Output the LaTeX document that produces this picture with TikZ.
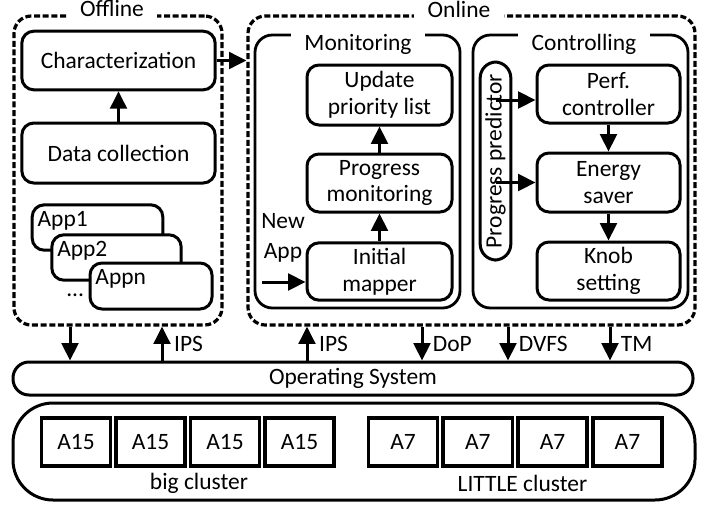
\documentclass[tikz,border=0pt]{standalone}
\usepackage{fontspec}
\setmainfont{Carlito}
\usetikzlibrary{arrows.meta, positioning}

\begin{document}
\begin{tikzpicture}[>={Triangle[length=13pt,width=12.5pt]}, x=0.75pt, y=-0.75pt,
    font=\fontsize{17.6}{20}\selectfont,
    blk/.style={draw, line width=2.25pt, rounded corners=9pt, fill=white, align=center, inner sep=1pt},
    grp/.style={draw, line width=2.4pt, dash pattern=on 4.5pt off 2pt, rounded corners=13pt},
    subgrp/.style={draw, line width=2.1pt, rounded corners=13pt},
    ttl/.style={fill=white, anchor=base, inner xsep=10pt, inner ysep=3pt},
    core/.style={draw, line width=2.7pt, minimum width=52pt, minimum height=36pt},
    apptxt/.style={anchor=north west, inner sep=3pt, xshift=2pt, yshift=-3pt},
    link/.style={->, line width=2.25pt}]
    \useasboundingbox (0,0) rectangle (715,508);

    % 1. Offline / Online groups
    \node[grp, minimum width=156pt, minimum height=231.75pt] (offline) at (118,170.5) {};
    \node[grp, minimum width=335.25pt, minimum height=231.75pt] (online) at (471.5,170.5) {};
    \node[subgrp, minimum width=153.75pt, minimum height=204.75pt] (monitor) at (357.5,171.5) {};
    \node[subgrp, minimum width=161.25pt, minimum height=204.75pt] (control) at (580.5,171.5) {};
    \node[ttl] (offt) at (112,16) {Offline};
    \node[ttl] (ont) at (459,17) {Online};
    \node[ttl] (mont) at (358,50) {Monitoring};
    \node[ttl] (cont) at (584,50) {Controlling};

    % 2. Offline part
    \node[blk, minimum width=145pt, minimum height=44pt] (char) at (118.5,60.5) {Characterization};
    \node[blk, minimum width=145pt, minimum height=45pt] (data) at (118.5,153) {Data collection};
    \node[blk, minimum width=98pt, minimum height=34pt] (app1) at (97.5,227.5) {};
    \node[apptxt] (app1t) at (app1.north west) {App1};
    \node[blk, minimum width=97pt, minimum height=34pt] (app2) at (116.5,257.5) {};
    \node[apptxt] (app2t) at (app2.north west) {App2};
    \node[blk, minimum width=91.5pt, minimum height=34.5pt] (appn) at (151,286) {};
    \node[apptxt] (appnt) at (appn.north west) {Appn};
    \node[anchor=base west, inner sep=0pt] (dots) at (66,296) {...};
    \draw[link] (data) -- (char);
    \draw[link] (char.east) -- (char.east -| online.west);

    % 3. Monitoring
    \node[blk, minimum width=108.75pt, minimum height=45pt] (upl) at (379.5,95) {Update\\priority list};
    \node[blk, minimum width=108.75pt, minimum height=43.5pt] (pm) at (379.5,183) {Progress\\monitoring};
    \node[blk, minimum width=108.75pt, minimum height=43pt] (im) at (379.5,271.5) {Initial\\mapper};
    \node[align=center, inner sep=0pt] (newapp) at (283,238) {New\\[2.5pt]App};
    \coordinate (na) at (262,282);
    \draw[link] (im) -- (pm);
    \draw[link] (pm) -- (upl);
    \draw[link] (na) -- (na -| im.west);

    % 4. Controlling
    \node[blk, rotate=90, rounded corners=12pt, minimum width=148.5pt, minimum height=23pt] (pred) at (495.5,161) {Progress predictor};
    \node[blk, minimum width=107.25pt, minimum height=43.5pt] (perf) at (608.5,94) {Perf.\\controller};
    \node[blk, minimum width=107.25pt, minimum height=44.25pt] (energy) at (608.5,182.5) {Energy\\saver};
    \node[blk, minimum width=107.25pt, minimum height=43.5pt] (knob) at (608.5,271) {Knob\\setting};
    \coordinate (pin) at ([yshift=-4.5pt]perf.west);
    \draw[link] (pin -| pred.east) -- (pin);
    \draw[link] (energy.west -| pred.east) -- (energy.west);
    \draw[link] (perf) -- (energy);
    \draw[link] (energy) -- (knob);

    % 5. Operating system and hardware
    \node[blk, rounded corners=12pt, minimum width=510pt, minimum height=24.75pt] (os) at (353,378.5) {Operating System};
    \node[blk, rounded corners=30pt, minimum width=511.5pt, minimum height=72.75pt] (hw) at (354,451.5) {};
    \foreach \i in {0,...,3} {
        \node[core] (big\i) at (76+74.5*\i,442) {A15};
        \node[core] (little\i) at (403+74.8*\i,442) {A7};
    }
    \node (bigc) at (199,483) {big cluster};
    \node (littlec) at (522.5,483) {LITTLE cluster};

    % 6. Arrows to/from OS
    \coordinate (c1) at (70,0);
    \coordinate (c2) at (162,0);
    \coordinate (c3) at (307,0);
    \coordinate (c4) at (422,0);
    \coordinate (c5) at (508,0);
    \coordinate (c6) at (610,0);
    \draw[link] (offline.south -| c1) -- (os.north -| c1);
    \draw[link] (os.north -| c2) -- (offline.south -| c2) node[midway, right, inner sep=8pt] {IPS};
    \draw[link] (os.north -| c3) -- (online.south -| c3) node[midway, right, inner sep=8pt] {IPS};
    \draw[link] (online.south -| c4) -- (os.north -| c4) node[midway, right, inner sep=7pt] {DoP};
    \draw[link] (online.south -| c5) -- (os.north -| c5) node[midway, right, inner sep=7pt] {DVFS};
    \draw[link] (online.south -| c6) -- (os.north -| c6) node[midway, right, inner sep=7pt] {TM};

\end{tikzpicture}
\end{document}
